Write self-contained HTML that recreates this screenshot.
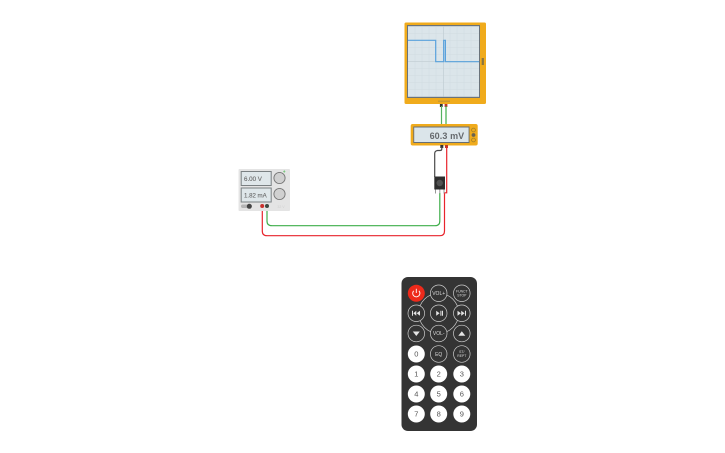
<!DOCTYPE html>
<html><head><meta charset="utf-8"><style>
html,body{margin:0;padding:0;background:#fff;width:725px;height:453px;overflow:hidden}
svg{display:block}
text{font-family:"Liberation Sans",sans-serif;text-anchor:middle}
</style></head><body>
<svg width="725" height="453" viewBox="0 0 725 453" xmlns="http://www.w3.org/2000/svg">
<rect width="725" height="453" fill="#fff"/>
<!-- oscilloscope -->
<rect x="404.5" y="22.5" width="81.5" height="81.5" rx="1.5" fill="#f0ab1c"/>
<rect x="407" y="25" width="73" height="73" fill="#6a737b"/>
<rect x="408" y="26.2" width="71" height="70.6" fill="#dbe5ea"/>
<g stroke="#d0dce1" stroke-width="0.5">
<path d="M415 26.3V96.5M422 26.3V96.5M429 26.3V96.5M436 26.3V96.5M450 26.3V96.5M457 26.3V96.5M464 26.3V96.5M471 26.3V96.5M408 33.3H479M408 40.3H479M408 47.3H479M408 54.3H479M408 68.3H479M408 75.3H479M408 82.3H479M408 89.3H479"/>
</g>
<path d="M443.4 26.3V96.5M408 61.4H479" stroke="#c4d0d5" stroke-width="0.8"/>
<path d="M408 40.3H435.7V61.7H443.7V40.3H445.4V61.7H479" fill="none" stroke="#5aa2dc" stroke-width="1.2"/>
<rect x="481.7" y="58" width="2.2" height="7" fill="#8a7540"/>
<rect x="438" y="100.5" width="12" height="1.6" fill="#c9992f"/>
<rect x="439.9" y="104" width="2.8" height="3" fill="#333"/>
<rect x="444.6" y="104" width="2.8" height="3" fill="#c0392b"/>
<!-- scope-meter wires -->
<path d="M441.5 106V124.5" stroke="#55b260" stroke-width="1.2" fill="none"/>
<path d="M446 106V124.5" stroke="#3fae4a" stroke-width="1.2" fill="none"/>
<!-- multimeter -->
<rect x="410.7" y="124" width="67" height="21.5" rx="2" fill="#f0ab1c"/>
<rect x="413.3" y="126.5" width="56.2" height="16.5" fill="#666e75"/>
<rect x="414.2" y="127.5" width="54.4" height="14.5" fill="#dbe5ea"/>
<text x="464.3" y="138.8" font-size="9" font-weight="bold" fill="#666a6e" letter-spacing="0.1" style="text-anchor:end">60.3 mV</text>
<circle cx="473.5" cy="130" r="1.9" fill="none" stroke="#a07f2a" stroke-width="0.8"/>
<circle cx="473.5" cy="135" r="1.9" fill="#6a6350"/>
<circle cx="473.5" cy="140" r="1.9" fill="none" stroke="#a07f2a" stroke-width="0.8"/>
<rect x="440.3" y="145" width="3" height="3" fill="#333"/>
<rect x="445" y="145" width="3" height="3" fill="#c0392b"/>
<!-- wires -->
<path d="M441.8 147V149Q441.8 150.5 440 150.5H437.5Q434.7 151 434.7 153.5V177" fill="none" stroke="#4a4a4a" stroke-width="1.2"/>
<path d="M446.7 147V192.8H444.5" fill="none" stroke="#e8242c" stroke-width="1.2"/>
<path d="M267 207V221Q267 225.7 272 225.7H435Q439.8 225.7 439.8 221V193" fill="none" stroke="#3fae4a" stroke-width="1.2"/>
<path d="M262.3 207V231Q262.3 235.7 267 235.7H440Q444.5 235.7 444.5 231V192.8" fill="none" stroke="#e8242c" stroke-width="1.2"/>
<!-- sensor/button -->
<rect x="434.3" y="176.5" width="10.7" height="13" fill="#2d2d2d"/>
<circle cx="439.7" cy="183" r="3.2" fill="#525252"/>
<rect x="435" y="189.5" width="1" height="4" fill="#999"/>
<rect x="439.3" y="189.5" width="1" height="4" fill="#999"/>
<rect x="443.5" y="189.5" width="1" height="4" fill="#999"/>
<!-- power supply -->
<rect x="238.5" y="169" width="51.5" height="42" rx="1" fill="#e4e4e4"/>
<rect x="240.7" y="171" width="31" height="15" fill="#7a8082"/>
<rect x="241.7" y="172" width="29" height="13" fill="#dfe7ea"/>
<text x="244" y="181" font-size="6.2" fill="#666" stroke="#666" stroke-width="0.1" style="text-anchor:start">6.00 V</text>
<rect x="240.7" y="187.5" width="31" height="15" fill="#7a8082"/>
<rect x="241.7" y="188.5" width="29" height="13" fill="#dfe7ea"/>
<text x="244" y="197.3" font-size="6.1" fill="#666" stroke="#666" stroke-width="0.1" style="text-anchor:start">1.82 mA</text>
<circle cx="279.5" cy="178" r="5.6" fill="#d0d0d0" stroke="#777" stroke-width="0.9"/>
<circle cx="279.5" cy="194" r="5.6" fill="#d0d0d0" stroke="#777" stroke-width="0.9"/>
<path d="M283 171.5h2.4M284.2 170.3v2.4" stroke="#5bbd60" stroke-width="0.6"/>
<rect x="241" y="204.5" width="11" height="3.5" rx="1.7" fill="#b5b5b5"/>
<circle cx="249.3" cy="206.3" r="2.5" fill="#444"/>
<circle cx="262.2" cy="206" r="2" fill="#c9302c"/>
<circle cx="267" cy="206" r="2" fill="#3d4a42"/>
<text x="281" y="208" font-size="3.5" fill="#d0d0d0">32 V</text>
<!-- remote -->
<rect x="401.5" y="277" width="75.5" height="154" rx="6.5" fill="#343434"/>
<circle cx="438.7" cy="313.3" r="20" fill="none" stroke="#ccc" stroke-width="0.7"/>
<g fill="#343434" stroke="#ccc" stroke-width="0.7">
<circle cx="438.7" cy="293.3" r="8.3"/><circle cx="461.8" cy="293.3" r="8.3"/>
<circle cx="416.3" cy="313.3" r="8.3"/><circle cx="438.7" cy="313.3" r="8.3"/><circle cx="461.8" cy="313.3" r="8.3"/>
<circle cx="416.3" cy="333.5" r="8.3"/><circle cx="438.7" cy="333.5" r="8.3"/><circle cx="461.8" cy="333.5" r="8.3"/>
<circle cx="438.7" cy="354" r="8.3"/><circle cx="461.8" cy="354" r="8.3"/>
</g>
<circle cx="416.3" cy="293.3" r="8.5" fill="#ee2a1b"/>
<path d="M413.7 290.8A3.6 3.6 0 1 0 418.9 290.8M416.3 288.8V293" fill="none" stroke="#fff" stroke-width="0.9"/>
<g fill="#ddd" font-size="5">
<text x="438.7" y="295">VOL+</text>
<text x="438.7" y="335.2">VOL-</text>
<text x="438.7" y="356">EQ</text>
</g>
<g fill="#ddd" font-size="3.4">
<text x="461.8" y="292.3">FUNCT</text><text x="461.8" y="296.3">STOP</text>
<text x="461.8" y="353">ST/</text><text x="461.8" y="357">REPT</text>
</g>
<g fill="#e4e4e4">
<path d="M412 310.8h1v5h-1zM416.3 310.8v5l-3-2.5zM420 310.8v5l-3.4-2.5z"/>
<path d="M436.2 310.8v5l3.4-2.5zM440.4 310.8h1v5h-1zM442 310.8h1v5h-1z"/>
<path d="M457.5 310.8v5l3.4-2.5zM461.2 310.8v5l3.4-2.5zM465 310.8h1v5h-1z"/>
<path d="M412.8 331.5h7l-3.5 4.5z"/>
<path d="M458.3 335.8h7l-3.5-4.5z"/>
</g>
<g fill="#fff">
<circle cx="416.3" cy="354" r="8.5"/>
<circle cx="416.3" cy="374" r="8.5"/><circle cx="438.7" cy="374" r="8.5"/><circle cx="461.8" cy="374" r="8.5"/>
<circle cx="416.3" cy="394" r="8.5"/><circle cx="438.7" cy="394" r="8.5"/><circle cx="461.8" cy="394" r="8.5"/>
<circle cx="416.3" cy="414" r="8.5"/><circle cx="438.7" cy="414" r="8.5"/><circle cx="461.8" cy="414" r="8.5"/>
</g>
<g fill="#555" font-size="7.5">
<text x="416.3" y="356.7">0</text>
<text x="416.3" y="376.7">1</text><text x="438.7" y="376.7">2</text><text x="461.8" y="376.7">3</text>
<text x="416.3" y="396.7">4</text><text x="438.7" y="396.7">5</text><text x="461.8" y="396.7">6</text>
<text x="416.3" y="416.7">7</text><text x="438.7" y="416.7">8</text><text x="461.8" y="416.7">9</text>
</g>
</svg>
</body></html>
